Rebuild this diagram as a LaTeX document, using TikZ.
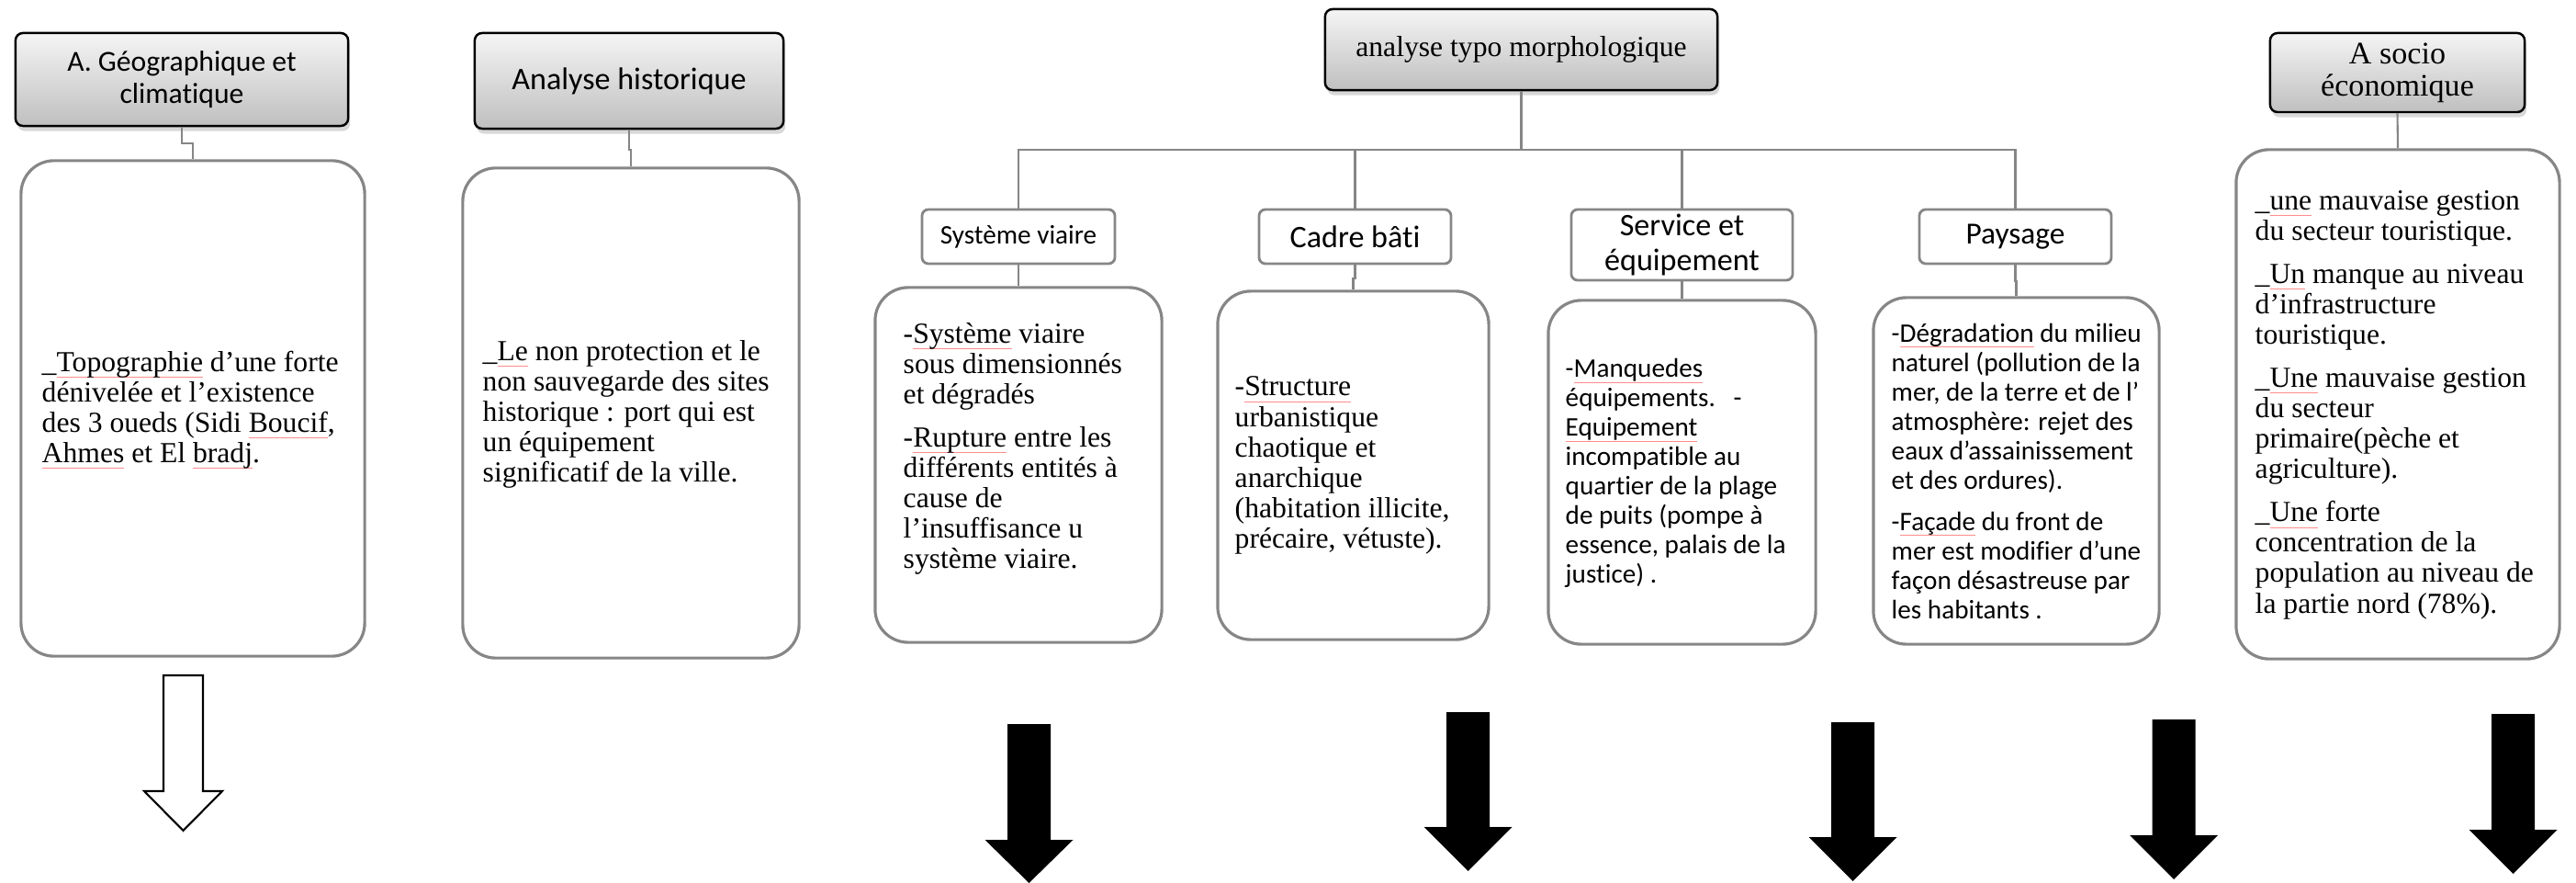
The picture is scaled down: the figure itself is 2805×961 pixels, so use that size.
\documentclass[tikz,border=0pt]{standalone}
\usepackage{fontspec}
\setmainfont{Liberation Serif}
\newfontfamily\calfont[Ligatures=NoCommon]{Carlito}
\usetikzlibrary{shadows}
\definecolor{bordergray}{HTML}{868686}
\newsavebox\sqbox
\newcommand\sq[1]{\sbox\sqbox{#1}\rlap{\textcolor{red!45}{\rule[-0.45ex]{\wd\sqbox}{0.25pt}}}\usebox\sqbox}
\newcommand\blkarrow[4]{\fill[black] ({#1-23.5},#2) -- ({#1+23.5},#2) -- ({#1+23.5},#3) -- ({#1+48},#3) -- (#1,#4) -- ({#1-48},#3) -- ({#1-23.5},#3) -- cycle;}
\begin{document}
\begin{tikzpicture}[x=0.01cm,y=-0.01cm,
  hdr/.style={draw=black, line width=0.7pt, rounded corners=0.08cm,
    top color=gray!8, bottom color=gray!50, inner sep=0pt, align=center,
    drop shadow={opacity=0.3, shadow xshift=0.6pt, shadow yshift=-1.6pt}},
  catbox/.style={draw=bordergray, line width=0.8pt, rounded corners=0.07cm,
    fill=white, inner sep=0pt, align=center, font=\calfont},
  txtbox/.style={draw=bordergray, line width=0.9pt, rounded corners=0.36cm,
    fill=white, inner sep=0pt},
  txt/.style={inner sep=0pt, align=left, anchor=west},
  serif/.style={font=\fontsize{9}{9.4}\selectfont},
  sans/.style={font=\calfont\fontsize{8.3}{9.1}\selectfont},
  conn/.style={draw=bordergray, line width=0.6pt}]

\path[use as bounding box, fill=white] (0,0) rectangle (2805,961);

% header boxes
\node[hdr, minimum width=3.62cm, minimum height=1.01cm, font=\calfont\fontsize{9}{10}\selectfont] (g1) at (198,86.5) {A. Géographique et\\climatique};
\node[hdr, minimum width=3.36cm, minimum height=1.04cm, font=\calfont\fontsize{9.7}{11}\selectfont] (h) at (685,88) {Analyse historique};
\node[hdr, minimum width=4.27cm, minimum height=0.88cm, font=\fontsize{9}{10}\selectfont] (typo) at (1656.5,54) {analyse typo morphologique};
\node[hdr, minimum width=2.77cm, minimum height=0.86cm, font=\fontsize{9.7}{10}\selectfont] (soc) at (2610.5,79) {A socio\\économique};

% category boxes
\node[catbox, minimum width=2.10cm, minimum height=0.59cm, font=\calfont\fontsize{8.3}{9}\selectfont] (sv) at (1109,257.5) {Système viaire};
\node[catbox, minimum width=2.09cm, minimum height=0.59cm, font=\calfont\fontsize{9.7}{11}\selectfont] (cb) at (1475.5,257.5) {Cadre bâti};
\node[catbox, minimum width=2.41cm, minimum height=0.77cm, font=\calfont\fontsize{9.7}{11}\selectfont] (se) at (1831.5,266.5) {Service et\\équipement};
\node[catbox, minimum width=2.09cm, minimum height=0.59cm, font=\calfont\fontsize{9.5}{11}\selectfont] (pa) at (2194.5,257.5) {Paysage};

% text boxes
\node[txtbox, minimum width=3.74cm, minimum height=5.39cm] (g1b) at (210,444.5) {};
\node[txtbox, minimum width=3.66cm, minimum height=5.33cm] (hb) at (687,449.5) {};
\node[txtbox, minimum width=3.12cm, minimum height=3.86cm] (svb) at (1109,506) {};
\node[txtbox, minimum width=2.95cm, minimum height=3.79cm] (cbb) at (1473.5,506.5) {};
\node[txtbox, minimum width=2.91cm, minimum height=3.74cm] (seb) at (1831.5,514) {};
\node[txtbox, minimum width=3.11cm, minimum height=3.77cm] (pab) at (2195.5,512.5) {};
\node[txtbox, minimum width=3.52cm, minimum height=5.54cm] (socb) at (2611,440) {};

% texts
\node[txt, serif] (g1t) at (45,446) {\_\sq{Topographie} d’une forte\\dénivelée et l’existence\\des 3 oueds (Sidi \sq{Boucif},\\\sq{Ahmes} et El \sq{bradj}.};
\node[txt, serif] (ht) at (525,451) {\_\sq{Le} non protection et le\\non sauvegarde des sites\\historique : port qui est\\un équipement\\significatif de la ville.};
\node[txt, serif] (svt) at (983,488.5) {-\sq{Système} viaire\\sous dimensionnés\\et dégradés\\[4pt]-\sq{Rupture} entre les\\différents entités à\\cause de\\l’insuffisance u\\système viaire.};
\node[txt, serif] (cbt) at (1344,506.5) {-\sq{Structure}\\urbanistique\\chaotique et\\anarchique\\(habitation illicite,\\précaire, vétuste).};
\node[txt, sans] (set) at (1704,514.5) {-\sq{Manquedes}\\équipements.\ \ \ -\\\sq{Equipement}\\incompatible au\\quartier de la plage\\de puits (pompe à\\essence, palais de la\\justice) .};
\node[txt, sans] (pat) at (2059,512.5) {-\sq{Dégradation} du milieu\\naturel (pollution de la\\mer, de la terre et de l’\\atmosphère: rejet des\\eaux d’assainissement\\et des ordures).\\[3.7pt]-\sq{Façade} du front de\\mer est modifier d’une\\façon désastreuse par\\les habitants .};
\node[txt, serif] (soct) at (2455,440.5) {\_\sq{une} mauvaise gestion\\du secteur touristique.\\[4pt]\_\sq{Un} manque au niveau\\d’infrastructure\\touristique.\\[4pt]\_\sq{Une} mauvaise gestion\\du secteur\\primaire(pèche et\\agriculture).\\[4pt]\_\sq{Une} forte\\concentration de la\\population au niveau de\\la partie nord (78\%).};

% connectors
\coordinate (bus) at (0,163);
\draw[conn] (g1.south) -- ++(0,18) -| (g1b.north);
\draw[conn] (h.south) -- ++(0,22) -| (hb.north);
\draw[conn] (typo.south) -- (typo.south |- bus);
\draw[conn] (sv.north) -- (sv.north |- bus) -| (pa.north);
\draw[conn] (cb.north) -- (cb.north |- bus);
\draw[conn] (se.north) -- (se.north |- bus);
\draw[conn] (soc.south) -- (socb.north);
\draw[conn] (sv.south) -- (svb.north);
\draw[conn] (cb.south) -- ++(0,15) -| (cbb.north);
\draw[conn] (se.south) -- (seb.north);
\draw[conn] (pa.south) -- ++(0,18) -| (pab.north);

% white arrow
\filldraw[fill=white, draw=black, line width=0.6pt] (178,735) -- (221,735) -- (221,861) -- (242,861) -- (199.5,904) -- (157,861) -- (178,861) -- cycle;

% black arrows
\blkarrow{1120.5}{788}{914}{961}
\blkarrow{1598.5}{775}{900}{948}
\blkarrow{2017.5}{786}{911}{959}
\blkarrow{2367}{783}{909}{957}
\blkarrow{2736.5}{777}{903}{951}
\end{tikzpicture}
\end{document}
